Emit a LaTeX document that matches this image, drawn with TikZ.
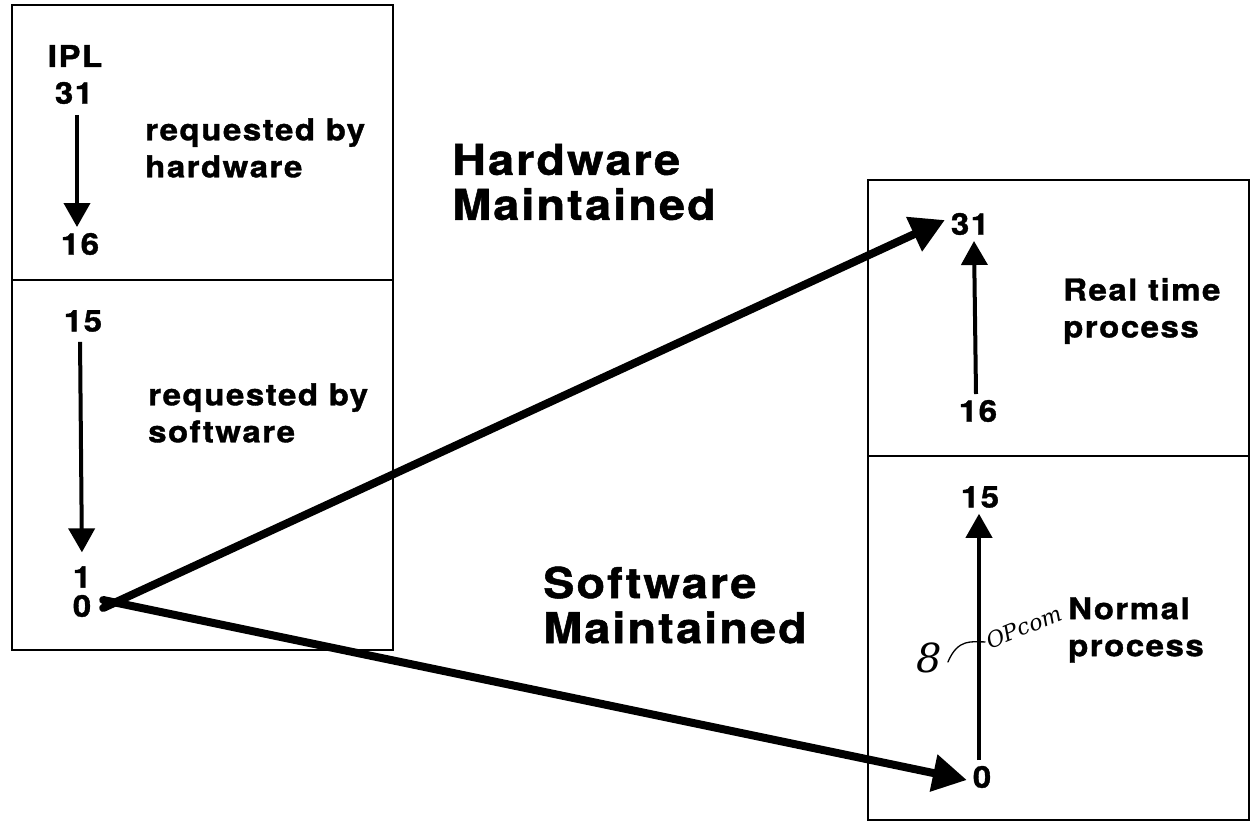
\documentclass[tikz,border=0pt]{standalone}
\usepackage{fontspec}
\usetikzlibrary{arrows.meta}
\newfontfamily\lab[UprightFont=*-bold,Extension=.otf,FakeStretch=1.1,LetterSpace=5,FakeBold=1.2]{texgyreheros}
\newfontfamily\hand{DejaVu Serif}
\tikzset{
  box/.style={line width=2.5pt},
  txt/.style={font=\lab\fontsize{30}{36}\selectfont, inner sep=0pt, outer sep=6pt},
  desc/.style={font=\lab\fontsize{30}{37}\selectfont, inner sep=0pt, align=left, anchor=west},
  big/.style={font=\lab\fontsize{42.5}{45}\selectfont, inner sep=0pt, align=left, anchor=west},
  smallarrow/.style={line width=4pt, -{Triangle[length=24pt,width=26pt]}},
  bigarrow/.style={line width=8pt, line cap=round, -{Triangle[length=34pt,width=36pt]}},
  handw/.style={inner sep=0pt},
}
\begin{document}
\begin{tikzpicture}[x=1pt,y=-1pt]
\useasboundingbox (0,0) rectangle (1252,824);
% left box
\draw[box] (12,5) rectangle (393,650);
\draw[box] (12,280) -- (393,280);
% right box
\draw[box] (868,180) rectangle (1249,820);
\draw[box] (868,456) -- (1249,456);
% left texts
\node[txt] (ipl) at (75,56) {IPL};
\node[txt] (l31) at (74,93) {31};
\node[txt] (l16) at (80,244) {16};
\node[desc] (reqhw) at (145,148) {requested by\\hardware};
\node[txt] (l15) at (83,321) {15};
\node[txt] (l1) at (82,577) {1};
\node[txt] (l0) at (82,606) {0};
\node[desc] (reqsw) at (148,413) {requested by\\software};
% middle labels
\node[big] (hwm) at (452,182) {Hardware\\Maintained};
\node[big] (swm) at (543,605) {Software\\Maintained};
% right texts
\node[txt] (r31) at (970,224) {31};
\node[txt] (r16) at (978,411) {16};
\node[desc] (rt) at (1063,311) {Real time\\process};
\node[txt] (r15) at (980,497) {15};
\node[txt] (r0) at (982,777) {0};
\node[desc] (np) at (1068,630) {Normal\\process};
% small arrows
\draw[smallarrow, shorten <=5pt] ([xshift=3pt]l31.south) -- ([xshift=-3pt]l16.north);
\draw[smallarrow, shorten <=4pt, shorten >=8pt] ([xshift=-3pt]l15.south) -- (l1.north);
\draw[smallarrow] ([xshift=-2pt]r16.north) -- ([xshift=4pt]r31.south);
\draw[smallarrow] ([xshift=-3pt]r0.north) -- ([xshift=-1pt]r15.south);
% big arrows
\draw[bigarrow] ([xshift=6pt,yshift=-2pt]l0.east) -- ([yshift=4pt]r31.west);
\draw[bigarrow] ([xshift=6pt,yshift=6pt]l0.east) -- ([yshift=-3pt]r0.west);
% handwriting
\node[handw, font=\hand\itshape\fontsize{40}{40}\selectfont] (eight) at (929,658) {8};
\node[handw, font=\hand\itshape\fontsize{22}{22}\selectfont, rotate=22] (opcom) at (1024,627) {OPcom};
\draw[line width=1.3pt, line cap=round] ([xshift=6pt,yshift=-4pt]eight.east) .. controls (958,638) and (972,642) .. ([xshift=-2pt]opcom.west);
\end{tikzpicture}
\end{document}
